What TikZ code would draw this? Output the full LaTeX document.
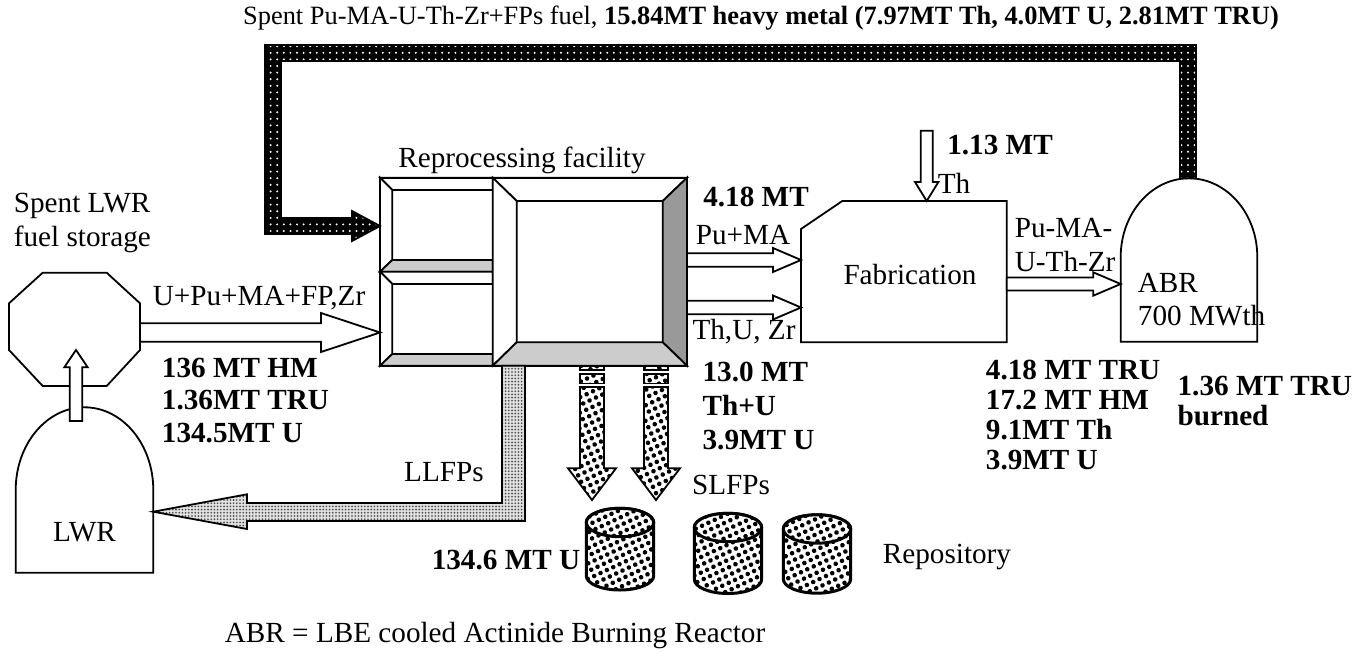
\documentclass[tikz,border=0pt]{standalone}
\usepackage{fontspec}
\setmainfont{Liberation Serif}
\usetikzlibrary{calc, positioning, patterns.meta}

% straight block arrow: style, from, to, shaft half width, head half width, head length
\newcommand{\blockarrow}[6]{%
  \coordinate (ba-a) at #2;
  \coordinate (ba-b) at #3;
  \coordinate (ba-h) at ($(ba-b)!#6!(ba-a)$);
  \draw[#1] ($(ba-a)!#4!90:(ba-b)$) -- ($(ba-h)!#4!-90:(ba-a)$) -- ($(ba-h)!#5!-90:(ba-a)$)
    -- (ba-b) -- ($(ba-h)!#5!90:(ba-a)$) -- ($(ba-h)!#4!90:(ba-a)$) -- ($(ba-a)!#4!-90:(ba-b)$) -- cycle;
}

\begin{document}
\begin{tikzpicture}[
    x=0.5pt, y=-0.5pt,
    font=\fontsize{14.6}{17}\selectfont,
    line width=0.9pt,
    txt/.style={inner sep=0pt},
    amount/.style={inner sep=0pt, align=left, font=\fontsize{14.6}{#1}\selectfont\bfseries},
    amount/.default=17pt,
    hollow/.style={draw, fill=white},
    litface/.style={draw, fill=white},
    grayface/.style={draw, fill=black!20},
    darkface/.style={draw, fill=black!40},
    spent/.style={draw, preaction={fill=black}, pattern={Dots[distance=3.3pt, radius=0.55pt]}, pattern color=white},
    longlived/.style={draw, preaction={fill=black!12}, pattern={Dots[distance=1.6pt, radius=0.45pt]}, pattern color=black!75},
    shortlived/.style={draw, preaction={fill=white}, pattern={Dots[distance=3.5pt, radius=1.15pt, angle=25]}, pattern color=black}
]
\useasboundingbox (0,0) rectangle (1362,660);

% spent fuel storage and LWR
\draw[litface] (42.7,272.7) -- (106.7,272.7) -- (140,303.3) -- (140,350) -- (106.7,386) -- (42.7,386) -- (9,350) -- (9,303.3) -- cycle;
\coordinate (store-e) at (140,332.5);
\coordinate (store-in) at (76,350);
\node[txt, align=left, anchor=west] (storelbl) at (13,223) {Spent LWR\\fuel storage};

\draw[litface] (15.7,572.7) -- (15.7,490) arc[start angle=180, end angle=360, x radius=68.8, y radius=82.7] -- (153.3,572.7) -- cycle;
\coordinate (lwr-top) at (76,421);
\coordinate (lwr-e) at (153.3,511.7);
\node[txt] (lwr) at (84.5,532) {LWR};

% reprocessing facility
\foreach \ya/\yb in {177.7/271.7, 271.7/365.7} {
  \draw[litface] (380,\ya) -- (492.7,\ya) -- (492.7,\ya+12.3) -- (392.3,\ya+12.3) -- cycle;
  \draw[litface] (380,\ya) -- (392.3,\ya+12.3) -- (392.3,\yb-11.7) -- (380,\yb) -- cycle;
  \draw[grayface] (380,\yb) -- (392.3,\yb-11.7) -- (492.7,\yb-11.7) -- (492.7,\yb) -- cycle;
}
\draw[litface] (492.7,177.7) -- (687,177.7) -- (662.7,201) -- (516.7,201) -- cycle;
\draw[litface] (492.7,177.7) -- (516.7,201) -- (516.7,342.3) -- (492.7,365.7) -- cycle;
\draw[darkface] (687,177.7) -- (687,365.7) -- (662.7,342.3) -- (662.7,201) -- cycle;
\draw[grayface] (492.7,365.7) -- (516.7,342.3) -- (662.7,342.3) -- (687,365.7) -- cycle;
\draw (380,177.7) rectangle (687,365.7);
\node[txt] (reprolbl) at (522,160) {Reprocessing facility};
\coordinate (repro-w) at (380,332.5);
\coordinate (repro-in) at (380,226);
\coordinate (repro-e1) at (687,260);
\coordinate (repro-e2) at (687,307.5);

% fabrication
\draw[litface] (801,229) -- (842.3,201) -- (1006.7,201) -- (1006.7,342.3) -- (801,342.3) -- cycle;
\node[txt] (fab) at (910,275) {Fabrication};
\coordinate (fab-w1) at (801,260);
\coordinate (fab-w2) at (801,307.5);
\coordinate (fab-n) at (926.7,201);
\coordinate (fab-e) at (1006.7,284);
\coordinate (th-src) at (926.7,130.7);

% ABR
\draw[litface] (1120.7,341.7) -- (1120.7,257) arc[start angle=180, end angle=360, x radius=68.3, y radius=78.7] -- (1257.3,341.7) -- cycle;
\coordinate (abr-w) at (1120.7,284);
\node[txt, align=left, anchor=west, font=\fontsize{14.6}{16.5}\selectfont] (abr) at (1137,300) {ABR\\700 MWth};

% spent ABR fuel back to reprocessing
\draw[spent] (1196,178.3) -- (1196,45) -- (265,45) -- (265,234) -- (352,234) -- (352,241) -- (repro-in)
  -- (352,211) -- (352,218) -- (281,218) -- (281,61) -- (1180,61) -- (1180,178.3) -- cycle;

% hollow flows
\blockarrow{hollow}{(lwr-top)}{(store-in)}{3.1pt}{5.85pt}{8.65pt}
\blockarrow{hollow}{(store-e)}{(repro-w)}{4.65pt}{9.75pt}{29.5pt}
\blockarrow{hollow}{(repro-e1)}{(fab-w1)}{3.35pt}{6pt}{14pt}
\blockarrow{hollow}{(repro-e2)}{(fab-w2)}{3.35pt}{6pt}{14pt}
\blockarrow{hollow}{(th-src)}{(fab-n)}{3pt}{5.85pt}{9.5pt}
\blockarrow{hollow}{(fab-e)}{(abr-w)}{3.25pt}{5.85pt}{13.75pt}

% long lived fission products back to LWR
\draw[longlived] (502,365.7) -- (525,365.7) -- (525,521) -- (247,521) -- (247,529) -- (lwr-e)
  -- (247,494.3) -- (247,503) -- (502,503) -- cycle;

% short lived fission products to repository
\foreach \sx in {592,656} {
  \draw[shortlived] (\sx-12,365.7) rectangle (\sx+12,369.7);
  \draw[shortlived] (\sx-12,374) rectangle (\sx+12,383.5);
  \blockarrow{shortlived}{(\sx,387)}{(\sx,500)}{6pt}{12pt}{15.85pt}
}
\foreach \cx/\ct/\cb in {620/522.5/575.8, 728/527.5/579.3, 817/529/579} {
  \draw[shortlived, line width=1.5pt] (\cx-33.7,\ct) -- (\cx-33.7,\cb) arc[start angle=180, end angle=0, x radius=33.7, y radius=14.2]
    -- (\cx+33.7,\ct) arc[start angle=0, end angle=-180, x radius=33.7, y radius=14.2] -- cycle;
  \draw[shortlived, line width=1.5pt] (\cx,\ct) ellipse[x radius=33.7, y radius=14.2];
}

% labels
\node[txt, font=\fontsize{13.2}{16}\selectfont] (toplbl) at (761,18) {Spent Pu-MA-U-Th-Zr+FPs fuel, \textbf{15.84MT heavy metal (7.97MT Th, 4.0MT U, 2.81MT TRU)}};
\node[txt] (feedlbl) at (259,298) {U+Pu+MA+FP,Zr};
\node[amount=16.25pt, anchor=west] (feedamt) at (161,400.5) {136 MT HM\\1.36MT TRU\\134.5MT U};
\node[txt] (llfplbl) at (444,472) {LLFPs};
\node[txt] (slfplbl) at (731,485) {SLFPs};
\node[amount] (wasteamt) at (506,560) {134.6 MT U};
\node[txt, anchor=west] (repolbl) at (882,557) {Repository};
\node[txt, anchor=west] (abrnote) at (224,636) {ABR = LBE cooled Actinide Burning Reactor};
\node[amount] (truamt) at (756,197) {4.18 MT};
\node[txt] (pumalbl) at (743,235) {Pu+MA};
\node[txt] (thulbl) at (744,332) {Th,U, Zr};
\node[amount, anchor=west] (thuamt) at (701.7,406) {13.0 MT\\Th+U\\3.9MT U};
\node[amount] (thamt) at (1000,145) {1.13 MT};
\node[txt] (thlbl) at (954,183) {Th};
\node[txt, align=left, anchor=west] (fuellbl) at (1014,245) {Pu-MA-\\U-Th-Zr};
\node[amount=15pt, anchor=west] (fuelamt) at (985,415) {4.18 MT TRU\\17.2 MT HM\\9.1MT Th\\3.9MT U};
\node[amount=15pt, anchor=west] (burnamt) at (1176.7,401) {1.36 MT TRU\\burned};

\end{tikzpicture}
\end{document}
